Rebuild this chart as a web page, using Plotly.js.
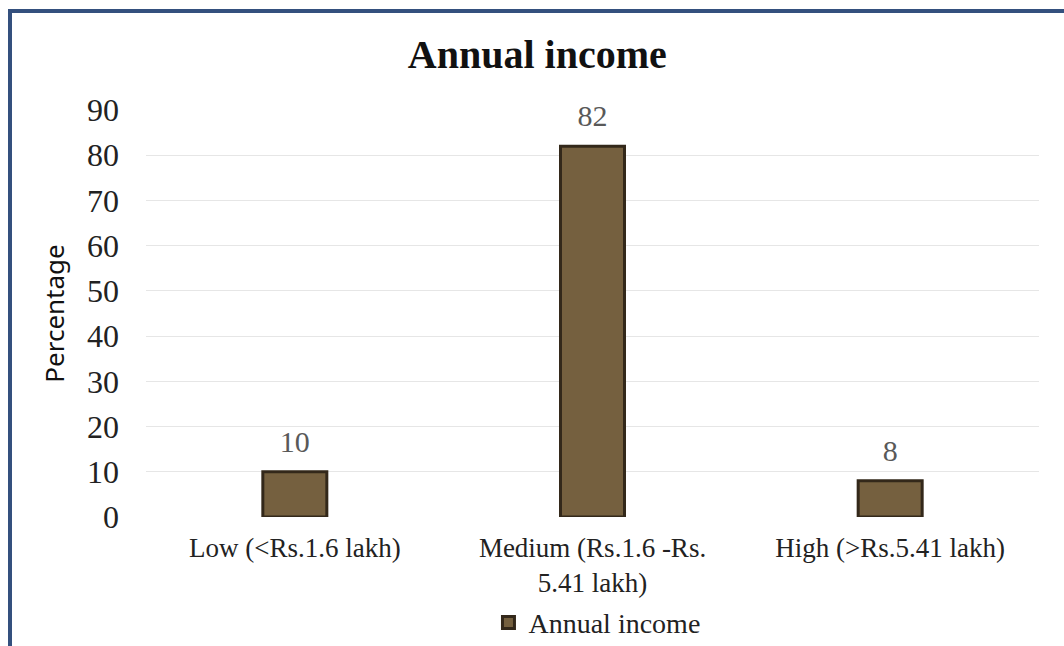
<!DOCTYPE html>
<html>
<head>
<meta charset="utf-8">
<script src="https://cdn.plot.ly/plotly-3.0.1.min.js"></script>
<style>
  html, body { margin: 0; padding: 0; background: #fff; }
  #chart { width: 1064px; height: 646px; position: absolute; left: 0; top: 0; }
  #frame { position: absolute; left: 8px; top: 9px; width: 1070px; height: 660px;
           border-left: 4px solid #34507e; border-top: 4px solid #34507e; pointer-events: none; }
</style>
</head>
<body>
<div id="chart"></div>
<div id="frame"></div>
<script>
const categories = [
  "Low (<Rs.1.6 lakh)",
  "Medium (Rs.1.6 -Rs.<br>5.41 lakh)",
  "High (>Rs.5.41 lakh)"
];
const percentages = [10, 82, 8];
const seriesName = "Annual income";
const yTicks = [0, 10, 20, 30, 40, 50, 60, 70, 80, 90];

const serif = "Liberation Serif, Times New Roman, serif";

const bars = {
  type: "bar",
  x: categories,
  y: percentages,
  name: seriesName,
  width: 0.215,
  marker: { color: "#75603f", line: { color: "#33281a", width: 3 } },
  showlegend: true,
  hoverinfo: "skip"
};

const labels = {
  type: "scatter",
  mode: "markers+text",
  x: categories,
  y: percentages,
  text: percentages.map(String),
  textposition: "top center",
  textfont: { family: serif, size: 30, color: "#595959" },
  marker: { size: 18, opacity: 0 },
  cliponaxis: false,
  showlegend: false,
  hoverinfo: "skip"
};

const layout = {
  width: 1064, height: 646,
  paper_bgcolor: "#ffffff", plot_bgcolor: "#ffffff",
  margin: { l: 146, r: 25, t: 110, b: 129 },
  title: { text: "<b>Annual income</b>", font: { family: serif, size: 40, color: "#111" },
           x: 0.505, xanchor: "center", y: 0.916, yanchor: "middle" },
  xaxis: {
    type: "category",
    tickfont: { family: serif, size: 27, color: "#222" },
    showgrid: false, zeroline: false, showline: false,
    ticks: "", ticklabelstandoff: 12, automargin: false
  },
  yaxis: {
    range: [0, 90],
    tickvals: yTicks,
    tickfont: { family: serif, size: 32, color: "#222" },
    showgrid: true, gridcolor: "#e6e6e6", gridwidth: 1,
    zeroline: false, showline: false, ticks: "",
    ticklabelstandoff: 26, automargin: false,
    title: { text: "Percentage", font: { family: "Noto Sans, sans-serif", size: 26, color: "#111" }, standoff: 14 }
  },
  legend: {
    orientation: "h", x: 0.505, xanchor: "center",
    yref: "container", y: 0.036, yanchor: "middle",
    font: { family: serif, size: 28, color: "#222" },
    itemwidth: 30, bgcolor: "rgba(0,0,0,0)"
  },
  bargap: 0.785
};

Plotly.newPlot("chart", [bars, labels], layout, { displayModeBar: false, staticPlot: true });
</script>
</body>
</html>
